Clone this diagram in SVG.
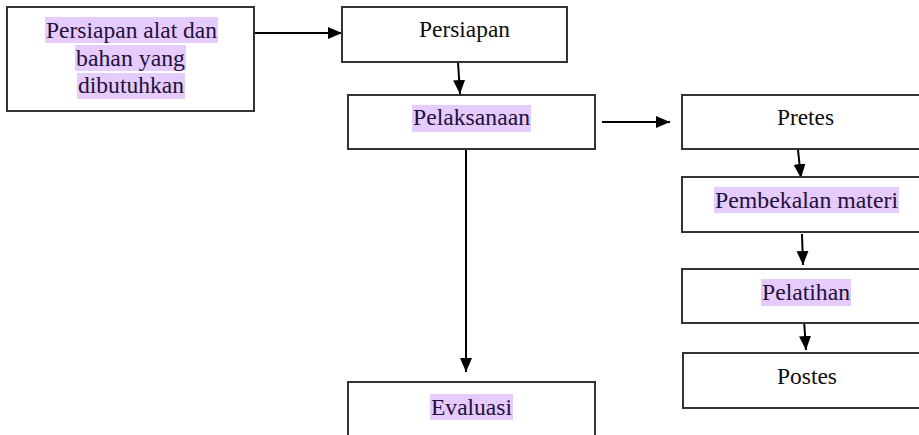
<svg xmlns="http://www.w3.org/2000/svg" width="919" height="435" viewBox="0 0 919 435">
<defs>
<style>
.box{fill:#fff;stroke:#333;stroke-width:2}
.hl{fill:#e6cbfd}
.t{fill:#0d0d0d}
.th{fill:#23113a}
.c{stroke:#000;stroke-width:2;fill:none;marker-end:url(#ah)}
</style>
<marker id="ah" markerUnits="userSpaceOnUse" markerWidth="15" markerHeight="13" refX="14" refY="6" orient="auto">
<path d="M0,0 L14,6 L0,12 z" fill="#000"/>
</marker>
</defs>
<rect width="919" height="435" fill="#fff"/>
<g id="connectors">
<line class="c" x1="254" y1="33" x2="342" y2="33"/>
<line class="c" x1="458" y1="62" x2="460" y2="94"/>
<line class="c" x1="602" y1="122" x2="670" y2="122"/>
<line class="c" x1="466" y1="149" x2="466" y2="372"/>
<line class="c" x1="798" y1="150" x2="801" y2="178"/>
<line class="c" x1="802" y1="234" x2="803" y2="265"/>
<line class="c" x1="804" y1="320" x2="806" y2="350"/>
</g>
<g font-family="Liberation Serif, Times New Roman, serif" font-size="23">
<g id="n-alat">
<rect class="box" x="7" y="7" width="247" height="104"/>
<rect class="hl" x="45" y="17" width="173" height="26"/>
<rect class="hl" x="75" y="45" width="111" height="26"/>
<rect class="hl" x="77" y="73" width="108" height="26"/>
<text class="t th" x="46" y="38" textLength="171" lengthAdjust="spacingAndGlyphs">Persiapan alat dan</text>
<text class="t th" x="76" y="66" textLength="109" lengthAdjust="spacingAndGlyphs">bahan yang</text>
<text class="t th" x="78" y="93" textLength="106" lengthAdjust="spacingAndGlyphs">dibutuhkan</text>
</g>
<g id="n-persiapan">
<rect class="box" x="342" y="7" width="225" height="55"/>
<text class="t" x="419" y="37" textLength="91" lengthAdjust="spacingAndGlyphs">Persiapan</text>
</g>
<g id="n-pelaksanaan">
<rect class="box" x="348" y="95" width="247" height="54"/>
<rect class="hl" x="412" y="105" width="119" height="27"/>
<text class="t th" x="413" y="125" textLength="117" lengthAdjust="spacingAndGlyphs">Pelaksanaan</text>
</g>
<g id="n-evaluasi">
<rect class="box" x="348" y="382" width="247" height="70"/>
<rect class="hl" x="430" y="394" width="83" height="26"/>
<text class="t th" x="431" y="415" textLength="81" lengthAdjust="spacingAndGlyphs">Evaluasi</text>
</g>
<g id="n-pretes">
<rect class="box" x="682" y="95" width="250" height="54"/>
<text class="t" x="777" y="125" textLength="57" lengthAdjust="spacingAndGlyphs">Pretes</text>
</g>
<g id="n-pembekalan">
<rect class="box" x="682" y="177" width="250" height="55"/>
<rect class="hl" x="714" y="187" width="185" height="26"/>
<text class="t th" x="715" y="208" textLength="183" lengthAdjust="spacingAndGlyphs">Pembekalan materi</text>
</g>
<g id="n-pelatihan">
<rect class="box" x="682" y="269" width="250" height="54"/>
<rect class="hl" x="761" y="279" width="90" height="27"/>
<text class="t th" x="762" y="300" textLength="88" lengthAdjust="spacingAndGlyphs">Pelatihan</text>
</g>
<g id="n-postes">
<rect class="box" x="683" y="353" width="250" height="55"/>
<text class="t" x="777" y="384" textLength="60" lengthAdjust="spacingAndGlyphs">Postes</text>
</g>
</g>
</svg>
